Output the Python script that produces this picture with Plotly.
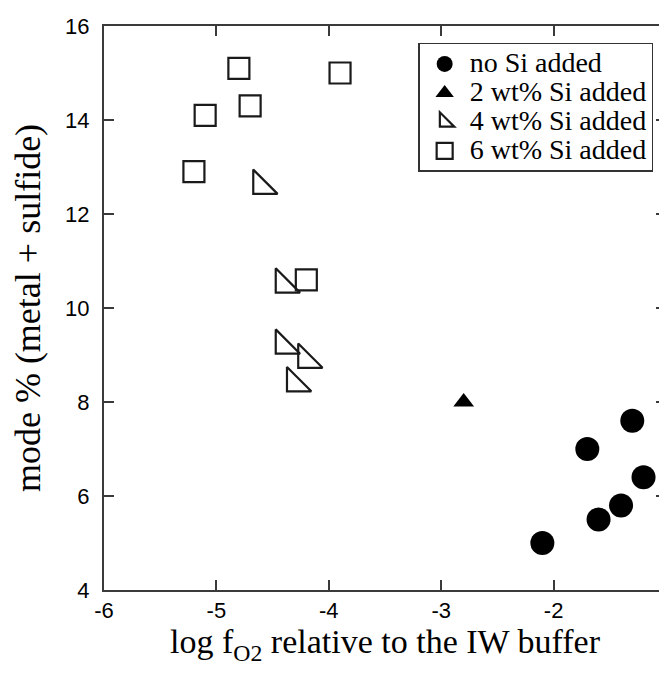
import plotly.graph_objects as go

# no Si added
x0 = [-1.3, -1.7, -1.2, -1.4, -1.6, -2.1]
y0 = [7.6, 7.0, 6.4, 5.8, 5.5, 5.0]
# 2 wt% Si added
x2 = [-2.8]
y2 = [8.0]
# 4 wt% Si added
x4 = [-4.6, -4.4, -4.4, -4.2, -4.3]
y4 = [12.6, 10.5, 9.2, 8.9, 8.4]
# 6 wt% Si added
x6 = [-5.2, -5.1, -4.8, -4.7, -3.9, -4.2]
y6 = [12.9, 14.1, 15.1, 14.3, 15.0, 10.6]

names = ["no Si added", "2 wt% Si added", "4 wt% Si added", "6 wt% Si added"]
xticks = [-6, -5, -4, -3, -2, -1]
yticks = [4, 6, 8, 10, 12, 14, 16]


def big(s):
    return "<span style='font-size:28px'>" + s + "</span>"


INK = "#1a1a1a"
fig = go.Figure()
fig.add_trace(go.Scatter(x=x0, y=y0, mode="markers", name=big(names[0]),
                         marker=dict(symbol="circle", size=24, color="black",
                                     line=dict(width=0))))
fig.add_trace(go.Scatter(x=x2, y=y2, mode="markers", name=big(names[1]),
                         marker=dict(symbol="triangle-up", size=18, color="black",
                                     line=dict(width=0))))
fig.add_trace(go.Scatter(x=x4, y=y4, mode="markers", name=big(names[2]),
                         marker=dict(symbol="triangle-sw-open", size=27, color=INK,
                                     line=dict(width=2.2, color=INK))))
fig.add_trace(go.Scatter(x=x6, y=y6, mode="markers", name=big(names[3]),
                         marker=dict(symbol="square-open", size=21, color=INK,
                                     line=dict(width=2.2, color=INK))))

axis_common = dict(showline=True, linecolor="#3a3a3a", linewidth=2, mirror="ticks",
                   ticks="inside", ticklen=10, tickwidth=1.5, tickcolor="#3a3a3a",
                   showgrid=False, zeroline=False, automargin=False,
                   tickfont=dict(family="Liberation Sans", size=22, color="black"))

fig.update_layout(
    width=667, height=675,
    paper_bgcolor="white", plot_bgcolor="white",
    margin=dict(l=96, r=9, t=18, b=93),
    xaxis=dict(range=[-6, -1], tickvals=xticks, ticktext=[str(v) for v in xticks],
               title=dict(text="log f<sub>O2</sub> relative to the IW buffer",
                          font=dict(family="Liberation Serif", size=34, color="black"),
                          standoff=4),
               **axis_common),
    yaxis=dict(range=[4, 16], tickvals=yticks, ticktext=[str(v) for v in yticks],
               ticklabelstandoff=8,
               title=dict(text="mode % (metal + sulfide)",
                          font=dict(family="Liberation Serif", size=36, color="black"),
                          standoff=16),
               **axis_common),
    legend=dict(x=0.559, y=0.970, xanchor="left", yanchor="top",
                bordercolor="#333", borderwidth=1.5, bgcolor="white",
                font=dict(family="Liberation Serif", size=20, color="black"),
                tracegroupgap=0, itemwidth=40),
    showlegend=True,
)

fig.write_html("out.html")
